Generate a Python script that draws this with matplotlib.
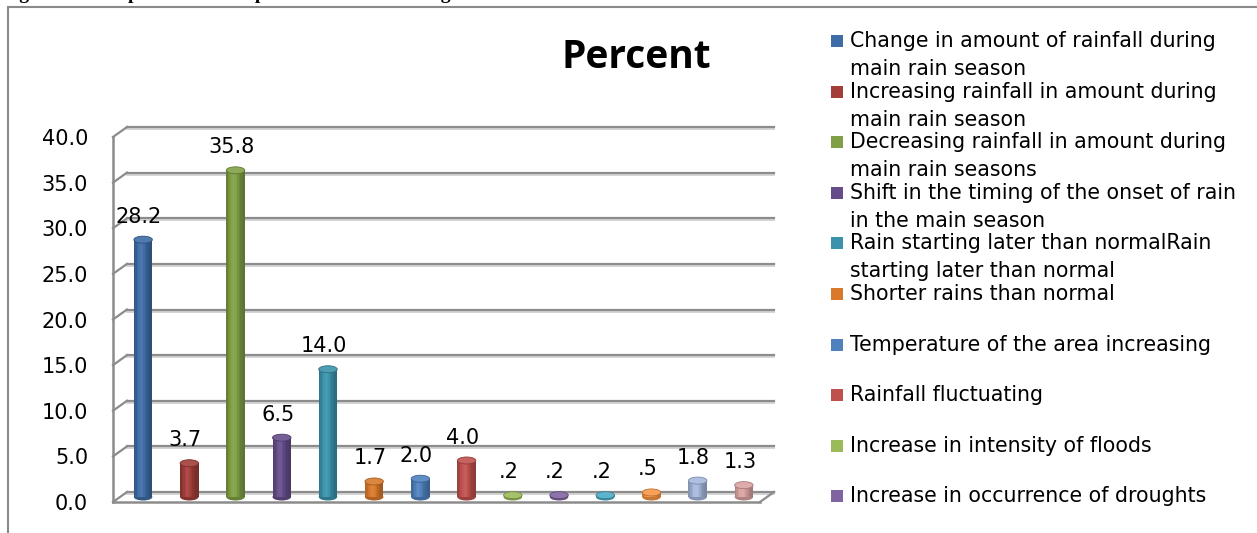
import matplotlib
matplotlib.use('Agg')
import matplotlib.pyplot as plt
import numpy as np
from matplotlib.colors import to_rgb
from matplotlib.patches import Ellipse, Rectangle
from matplotlib.transforms import ScaledTranslation

values = [28.2, 3.7, 35.8, 6.5, 14.0, 1.7, 2.0, 4.0, 0.2, 0.2, 0.2, 0.5, 1.8, 1.3]
colors = ['#3E6CA6', '#A33D3A', '#7FA044', '#654D8A', '#3A93AB', '#D9792A',
          '#4F81BD', '#C0504D', '#9BBB59', '#8064A2', '#4BACC6', '#F79646',
          '#A5B9DE', '#DBA3A2']
legend_labels = [
    'Change in amount of rainfall during\nmain rain season',
    'Increasing rainfall in amount during\nmain rain season',
    'Decreasing rainfall in amount during\nmain rain seasons',
    'Shift in the timing of the onset of rain\nin the main season',
    'Rain starting later than normalRain\nstarting later than normal',
    'Shorter rains than normal',
    'Temperature of the area increasing',
    'Rainfall fluctuating',
    'Increase in intensity of floods',
    'Increase in occurrence of droughts',
]
yticks = [0, 5, 10, 15, 20, 25, 30, 35, 40]

W, H = 1257, 533
DPI = 100
fig = plt.figure(figsize=(W / DPI, H / DPI), dpi=DPI)


def shade(c, f):
    c = np.array(to_rgb(c))
    if f < 1:
        return tuple(c * f)
    return tuple(c + (1 - c) * min(f - 1, 1))


# page caption, cut off at the top like in the source document
fig.text(2 / W, 1 + 1 / H, 'Figure 4.3: Respondents Perception of Climate Change',
         family='Liberation Serif', weight='bold', fontsize=14, va='baseline', ha='left')

# chart frame
fig.patches.append(Rectangle((8 / W, -0.05), 1.2, 1 - 7 / H + 0.05, transform=fig.transFigure,
                             fill=False, edgecolor='#8a8a8a', lw=1.5))

ax = fig.add_axes([113 / W, (H - 502) / H, 647 / W, 365 / H])
xl, xr = -0.5, 13.5
ax.set_xlim(xl, xr)
ax.set_ylim(0, 40)
ppx = 647 / (xr - xl)
ppy = 365 / 40

back = ax.transData + ScaledTranslation(14 / DPI, 10 / DPI, fig.dpi_scale_trans)
back_sh = ax.transData + ScaledTranslation(14 / DPI, 8 / DPI, fig.dpi_scale_trans)
mid = ax.transData + ScaledTranslation(7 / DPI, 5 / DPI, fig.dpi_scale_trans)

# back wall gridlines + side ticks
for v in yticks:
    ax.plot([xl, xr], [v, v], transform=back_sh, color='#d4d4d4', lw=1.4, clip_on=False, zorder=1)
    ax.plot([xl, xr], [v, v], transform=back, color='#8c8c8c', lw=1.6, clip_on=False, zorder=1)
    ax.plot([xl, xl + 14 / ppx], [v, v + 10 / ppy], color='#8c8c8c', lw=1.6, clip_on=False, zorder=1)
ax.plot([xr, xr + 14 / ppx], [0, 10 / ppy], color='#8c8c8c', lw=1.6, clip_on=False, zorder=1)

for s in ['top', 'right']:
    ax.spines[s].set_visible(False)
for s in ['left', 'bottom']:
    ax.spines[s].set_color('#8c8c8c')
    ax.spines[s].set_linewidth(1.8)

ax.set_xticks([])
ax.set_yticks(yticks)
ax.set_yticklabels([f'{v:.1f}' for v in yticks], family='DejaVu Sans', fontsize=15)
ax.tick_params(axis='y', length=0, pad=18)
ax.patch.set_visible(False)

# cylinders
x = np.arange(len(values))
w = 0.40
n = 12
for k in range(n):
    t = (k + 0.5) / n
    f = 0.72 + 0.36 * np.exp(-((t - 0.4) / 0.3) ** 2)
    ax.bar(x - w / 2 + k * w / n, values, width=w / n * 1.05, align='edge',
           color=[shade(c, f) for c in colors], lw=0, transform=mid, zorder=3)

ell_h = 7 / ppy
for xi, v, c in zip(x, values, colors):
    ax.add_patch(Ellipse((xi, 0), w, ell_h, facecolor=shade(c, 0.8), edgecolor='none',
                         transform=mid, zorder=2))
    ax.add_patch(Ellipse((xi, v), w, ell_h, facecolor=shade(c, 1.1), edgecolor=shade(c, 0.75),
                         lw=0.6, transform=mid, zorder=4))
    lbl = f'{v:.1f}'
    if lbl.startswith('0.'):
        lbl = lbl[1:]
    ax.annotate(lbl, (xi, v), xytext=(3, 28), textcoords='offset pixels',
                ha='center', va='center', family='DejaVu Sans', fontsize=15, zorder=5)

# title
fig.text(636 / W, 1 - 58 / H, 'Percent', family='Open Sans', weight='bold',
         fontsize=28, ha='center', va='center')

# legend, drawn by hand
for i, (lab, c) in enumerate(zip(legend_labels, colors)):
    yc = 41 + i * 50.6
    fig.patches.append(Rectangle((831 / W, 1 - (yc + 6) / H), 12 / W, 12 / H,
                                 transform=fig.transFigure, facecolor=c, edgecolor='none'))
    for j, line in enumerate(lab.split('\n')):
        fig.text(850 / W, 1 - (yc + j * 28) / H, line, family='DejaVu Sans', fontsize=14.8,
                 ha='left', va='center')

fig.savefig('out.png', dpi=DPI)
